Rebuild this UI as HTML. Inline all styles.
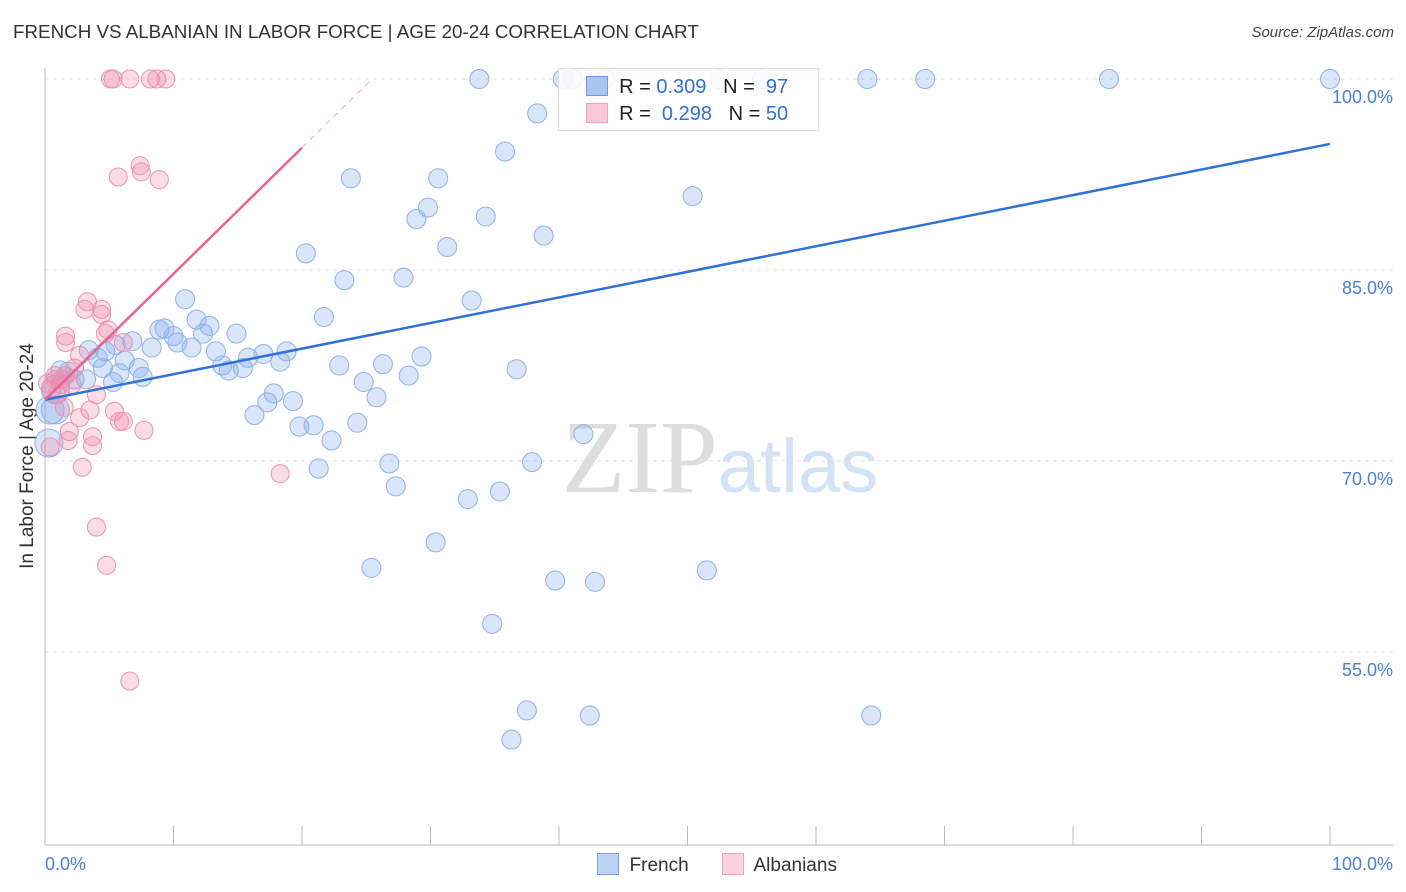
<!DOCTYPE html>
<html><head><meta charset="utf-8"><style>
body{margin:0;background:#fff;font-family:"Liberation Sans",sans-serif;}
#wrap{position:relative;width:1406px;height:892px;overflow:hidden;}
.t{position:absolute;white-space:nowrap;}
</style></head><body>
<div id="wrap">
<div class="t" style="left:13px;top:21px;font-size:18.8px;color:#333;">FRENCH VS ALBANIAN IN LABOR FORCE | AGE 20-24 CORRELATION CHART</div>
<div class="t" style="right:12px;top:24px;font-size:15px;color:#444;font-style:italic;">Source: ZipAtlas.com</div>
<div class="t" style="left:28px;top:456px;font-size:19px;color:#333;transform:translate(-50%,-50%) rotate(-90deg);">In Labor Force | Age 20-24</div>
<svg id="svg" width="1406" height="892" style="position:absolute;left:0;top:0"></svg>
</div>
<script>
const frenchX=[33.8,40.3,41.1,43.6,52.5,55.8,64.0,68.5,82.8,100,38.3,35.8,23.8,30.6,50.4,29.8,28.9,34.3,31.3,38.8,20.3,23.3,27.9,33.2,10.9,21.7,11.8,12.8,14.9,8.9,9.3,10.0,10.3,11.4,12.3,8.3,6.8,6.2,13.3,15.8,17.0,18.8,18.3,13.8,14.3,15.4,22.9,26.3,29.3,28.3,24.8,25.8,17.8,17.3,19.3,16.3,20.9,19.8,24.3,22.3,21.3,26.8,27.3,32.9,35.4,37.9,41.9,36.7,30.4,25.4,39.7,42.8,51.5,34.8,37.5,42.4,36.3,64.3,4.1,4.7,3.4,5.5,2.3,1.2,0.8,0.4,0.3,1.8,5.3,3.2,7.6,4.5,5.8,7.3,0.8];
const frenchY=[100,100,100,100,100,100,100,100,100,100,97.3,94.3,92.2,92.2,90.8,89.9,89.0,89.2,86.8,87.7,86.3,84.2,84.4,82.6,82.7,81.3,81.1,80.6,80.0,80.3,80.4,79.8,79.3,78.9,80.0,78.9,79.4,77.9,78.6,78.1,78.4,78.6,77.8,77.5,77.1,77.3,77.5,77.6,78.2,76.7,76.2,75.0,75.3,74.6,74.7,73.6,72.8,72.7,73.0,71.6,69.4,69.8,68.0,67.0,67.6,69.9,72.1,77.2,63.6,61.6,60.6,60.5,61.4,57.2,50.4,50.0,48.1,50.0,78.1,78.6,78.7,79.1,76.4,77.1,75.6,74.0,71.4,77.0,76.2,76.4,76.6,77.3,76.9,77.3,74.0];
const albX=[5.1,5.3,6.6,8.2,8.7,9.4,7.4,7.5,5.7,8.9,3.3,3.1,4.4,4.4,1.6,1.6,4.9,4.7,6.1,2.7,2.3,1.6,0.8,0.5,1.2,2.1,4.0,3.5,2.7,1.5,5.4,6.1,5.8,7.7,3.7,1.9,1.8,3.7,0.4,2.9,18.3,4.0,4.8,6.6,0.8,1.3,0.9,0.2];
const albY=[100,100,100,100,100,100,93.2,92.7,92.3,92.1,82.5,81.9,81.9,81.5,79.8,79.3,80.3,80.0,79.3,78.3,77.3,76.7,76.7,75.6,76.0,76.0,75.2,74.0,73.4,74.2,73.9,73.1,73.1,72.4,71.9,72.3,71.6,71.2,71.1,69.5,69.0,64.8,61.8,52.7,76.4,76.4,75.2,76.1];
const yTicks=[100,85,70,55];
const yTickLabels=["100.0%","85.0%","70.0%","55.0%"];
const xTicks=[0,10,20,30,40,50,60,70,80,90,100];
const frenchTrend=[74.8,0.201];
const albTrend=[74.8,0.99];
const X=v=>45+v*12.85, Y=v=>79+(100-v)*12.73;
const svg=document.getElementById('svg'),NS='http://www.w3.org/2000/svg';
function el(tag,attrs,parent){const e=document.createElementNS(NS,tag);for(const k in attrs)e.setAttribute(k,attrs[k]);(parent||svg).appendChild(e);return e;}
yTicks.forEach((v,i)=>{
 const g=el('line',{x1:45,x2:1393,y1:Y(v),y2:Y(v),stroke:'#e2e2e2','stroke-dasharray':'4,4'});
 
 
 const t=el('text',{x:1393,y:Y(v)+24,'text-anchor':'end','font-size':18,fill:'#4a80d4','font-family':'Liberation Sans, sans-serif'});
 t.textContent=yTickLabels[i];
 
 
});
const ax=el('line',{x1:45,x2:1393,y1:845,y2:845,stroke:'#bbb'});


const ay=el('line',{x1:45,x2:45,y1:68,y2:845,stroke:'#bbb'});


xTicks.forEach(v=>{const l=el('line',{x1:X(v),x2:X(v),y1:826,y2:845,stroke:'#bbb'});
 
 });
[["0.0%",45,'start'],["100.0%",1393,'end']].forEach(a=>{const t=el('text',{x:a[1],y:870,'text-anchor':a[2],'font-size':18,fill:'#4a80d4','font-family':'Liberation Sans, sans-serif'});t.textContent=a[0];
 
 });
const wm=el('text',{x:720,y:492,'text-anchor':'middle','font-size':104,fill:'#ddd','font-family':'Liberation Serif, serif'});
wm.innerHTML='ZIP<tspan font-family="Liberation Sans, sans-serif" font-size="76" fill="#d4e2f4">atlas</tspan>';


frenchX.forEach((x,i)=>{const r=(x<1&&frenchY[i]<76)?14:9.5;
 const c=el('circle',{cx:X(x),cy:Y(frenchY[i]),r:r,fill:'rgba(130,170,235,0.3)',stroke:'#8fb2e6','stroke-width':1});
 
 });
albX.forEach((x,i)=>{const c=el('circle',{cx:X(x),cy:Y(albY[i]),r:9,fill:'rgba(240,140,170,0.3)',stroke:'#ea93b0','stroke-width':1});
 
 });
const fl=el('line',{x1:X(0),y1:Y(frenchTrend[0]),x2:X(100),y2:Y(frenchTrend[0]+frenchTrend[1]*100),stroke:'#2f72d6','stroke-width':2.5});


const al=el('line',{x1:X(0),y1:Y(albTrend[0]),x2:X(20),y2:Y(albTrend[0]+albTrend[1]*20),stroke:'#e8638f','stroke-width':2.5});


const xe=(100-albTrend[0])/albTrend[1];
const ad=el('line',{x1:X(20),y1:Y(albTrend[0]+albTrend[1]*20),x2:X(xe),y2:Y(100),stroke:'#f0b0c5','stroke-width':1,'stroke-dasharray':'6,5'});


</script>
<div class="t" style="left:558px;top:68px;width:259px;height:61px;border:1px solid #ddd;background:rgba(255,255,255,0.85);font-size:20px;color:#222;">
 <div style="position:absolute;left:27px;top:7px;"><span style="display:inline-block;width:20px;height:18px;background:#a9c6f0;border:1px solid #6d9ee0;vertical-align:-3px;"></span>&nbsp; R = <span style="color:#2f6fd6">0.309</span>&nbsp;&nbsp;&nbsp;N = &nbsp;<span style="color:#2f6fd6">97</span></div>
 <div style="position:absolute;left:27px;top:34px;"><span style="display:inline-block;width:20px;height:18px;background:#f9c8d6;border:1px solid #f0a0bb;vertical-align:-3px;"></span>&nbsp; R = &nbsp;<span style="color:#2f6fd6">0.298</span>&nbsp;&nbsp;&nbsp;N = <span style="color:#2f6fd6">50</span></div>
</div>
<div class="t" style="left:597px;top:853px;font-size:19px;color:#333;">
 <span><span style="display:inline-block;width:20px;height:20px;background:#bcd2f3;border:1px solid #7aa5e3;vertical-align:-4px;"></span>&nbsp; French</span>
 <span style="margin-left:28px;"><span style="display:inline-block;width:20px;height:20px;background:#fad3df;border:1px solid #f0a0bb;vertical-align:-4px;"></span>&nbsp; Albanians</span>
</div>
</body></html>
